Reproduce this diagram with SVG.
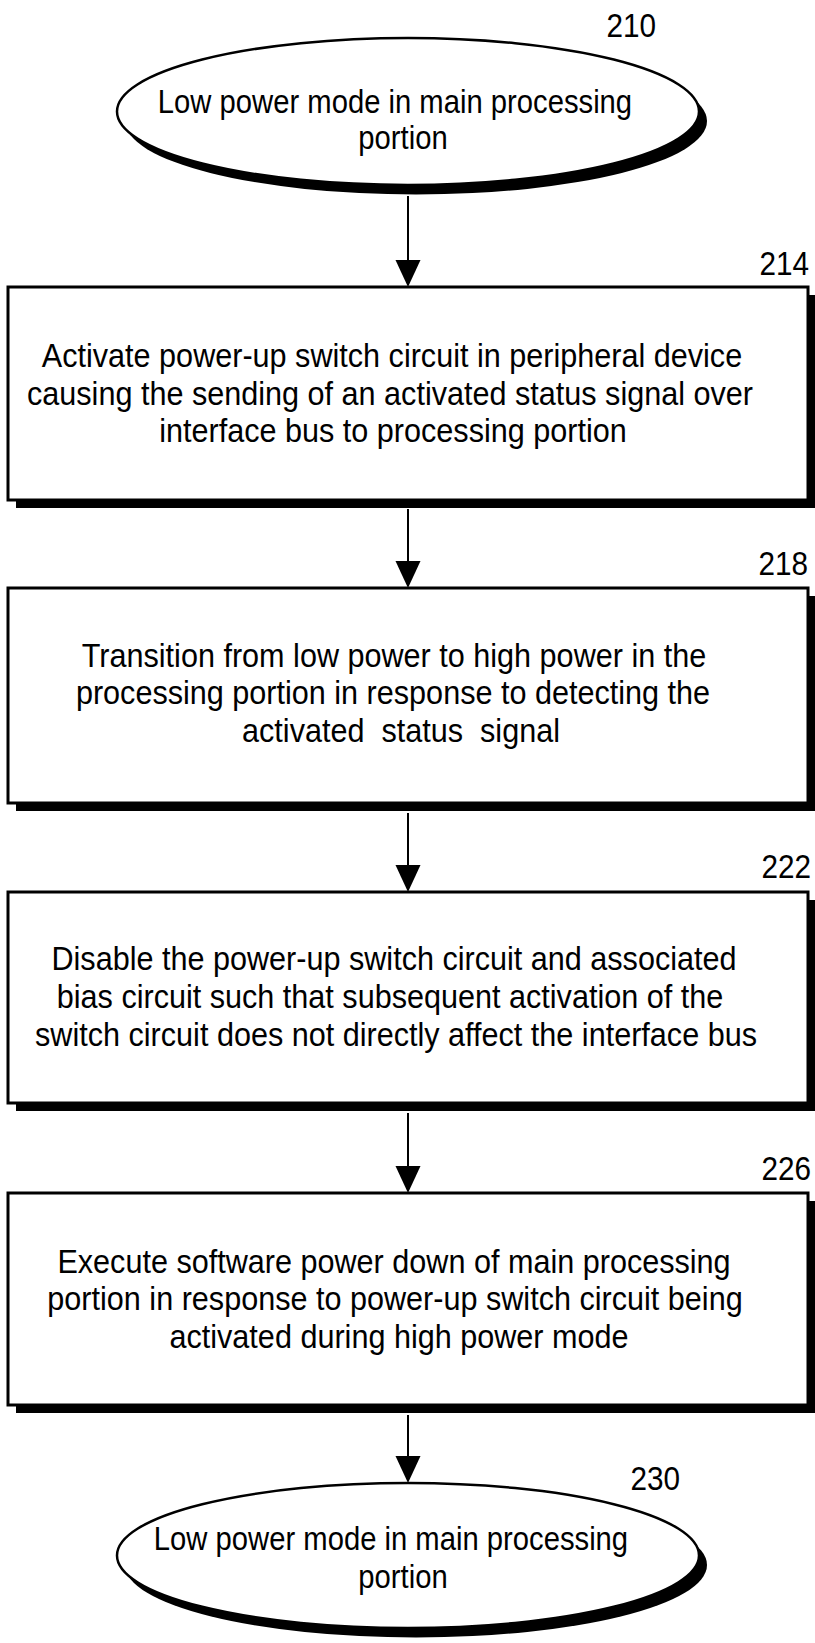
<svg xmlns="http://www.w3.org/2000/svg" width="815" height="1643" viewBox="0 0 815 1643">
<style>
  .bg { fill: #ffffff; }
  .shadow { fill: #000000; stroke: none; }
  .box { fill: #ffffff; stroke: #000000; stroke-width: 3; }
  .oval { fill: #ffffff; stroke: #000000; stroke-width: 2.5; }
  .t { font-family: "Liberation Sans", Arial, "Helvetica", sans-serif; font-size: 34px; fill: #000000; text-anchor: middle; }
  .lbl { font-family: "Liberation Sans", Arial, "Helvetica", sans-serif; font-size: 33px; fill: #000000; text-anchor: end; }
  .conn { stroke: #000000; stroke-width: 2; fill: none; }
  .head { fill: #000000; stroke: none; }
</style>
<rect class="bg" x="0" y="0" width="815" height="1643"/>

<g id="connectors">
  <line class="conn" x1="408" y1="196" x2="408" y2="262"/>
  <polygon class="head" points="395.5,260 420.5,260 408,287"/>
  <line class="conn" x1="408" y1="509" x2="408" y2="563"/>
  <polygon class="head" points="395.5,561 420.5,561 408,588"/>
  <line class="conn" x1="408" y1="813" x2="408" y2="867"/>
  <polygon class="head" points="395.5,865 420.5,865 408,892"/>
  <line class="conn" x1="408" y1="1113" x2="408" y2="1168"/>
  <polygon class="head" points="395.5,1166 420.5,1166 408,1193"/>
  <line class="conn" x1="408" y1="1415" x2="408" y2="1458"/>
  <polygon class="head" points="395.5,1456 420.5,1456 408,1483"/>
</g>

<g id="n210">
  <ellipse class="shadow" cx="416" cy="121" rx="291" ry="73.5"/>
  <ellipse class="oval" cx="408" cy="111.5" rx="291" ry="73.5"/>
  <text class="t" transform="translate(395 113) scale(0.86 1)">Low power mode in main processing</text>
  <text class="t" transform="translate(403 149) scale(0.86 1)">portion</text>
  <text class="lbl" transform="translate(656 37) scale(0.9 1)">210</text>
</g>

<g id="n214">
  <rect class="shadow" x="16" y="295" width="800" height="213"/>
  <rect class="box" x="8" y="287" width="800" height="213"/>
  <text class="t" transform="translate(392 367) scale(0.9 1)">Activate power-up switch circuit in peripheral device</text>
  <text class="t" transform="translate(390 405) scale(0.9 1)">causing the sending of an activated status signal over</text>
  <text class="t" transform="translate(393 442) scale(0.9 1)">interface bus to processing portion</text>
  <text class="lbl" transform="translate(809 275) scale(0.9 1)">214</text>
</g>

<g id="n218">
  <rect class="shadow" x="16" y="596" width="800" height="215"/>
  <rect class="box" x="8" y="588" width="800" height="215"/>
  <text class="t" transform="translate(394 667) scale(0.9 1)">Transition from low power to high power in the</text>
  <text class="t" transform="translate(393 704) scale(0.9 1)">processing portion in response to detecting the</text>
  <text class="t" xml:space="preserve" transform="translate(401 742) scale(0.9 1)">activated  status  signal</text>
  <text class="lbl" transform="translate(808 575) scale(0.9 1)">218</text>
</g>

<g id="n222">
  <rect class="shadow" x="16" y="900" width="800" height="211"/>
  <rect class="box" x="8" y="892" width="800" height="211"/>
  <text class="t" transform="translate(394 970) scale(0.9 1)">Disable the power-up switch circuit and associated</text>
  <text class="t" transform="translate(390 1008) scale(0.9 1)">bias circuit such that subsequent activation of the</text>
  <text class="t" transform="translate(396 1046) scale(0.9 1)">switch circuit does not directly affect the interface bus</text>
  <text class="lbl" transform="translate(811 878) scale(0.9 1)">222</text>
</g>

<g id="n226">
  <rect class="shadow" x="16" y="1201" width="800" height="212"/>
  <rect class="box" x="8" y="1193" width="800" height="212"/>
  <text class="t" transform="translate(394 1273) scale(0.9 1)">Execute software power down of main processing</text>
  <text class="t" transform="translate(395 1310) scale(0.9 1)">portion in response to power-up switch circuit being</text>
  <text class="t" transform="translate(399 1348) scale(0.9 1)">activated during high power mode</text>
  <text class="lbl" transform="translate(811 1180) scale(0.9 1)">226</text>
</g>

<g id="n230">
  <ellipse class="shadow" cx="416" cy="1565" rx="291" ry="72.5"/>
  <ellipse class="oval" cx="408" cy="1555.5" rx="291" ry="72.5"/>
  <text class="t" transform="translate(391 1550) scale(0.86 1)">Low power mode in main processing</text>
  <text class="t" transform="translate(403 1588) scale(0.86 1)">portion</text>
  <text class="lbl" transform="translate(680 1490) scale(0.9 1)">230</text>
</g>
</svg>
